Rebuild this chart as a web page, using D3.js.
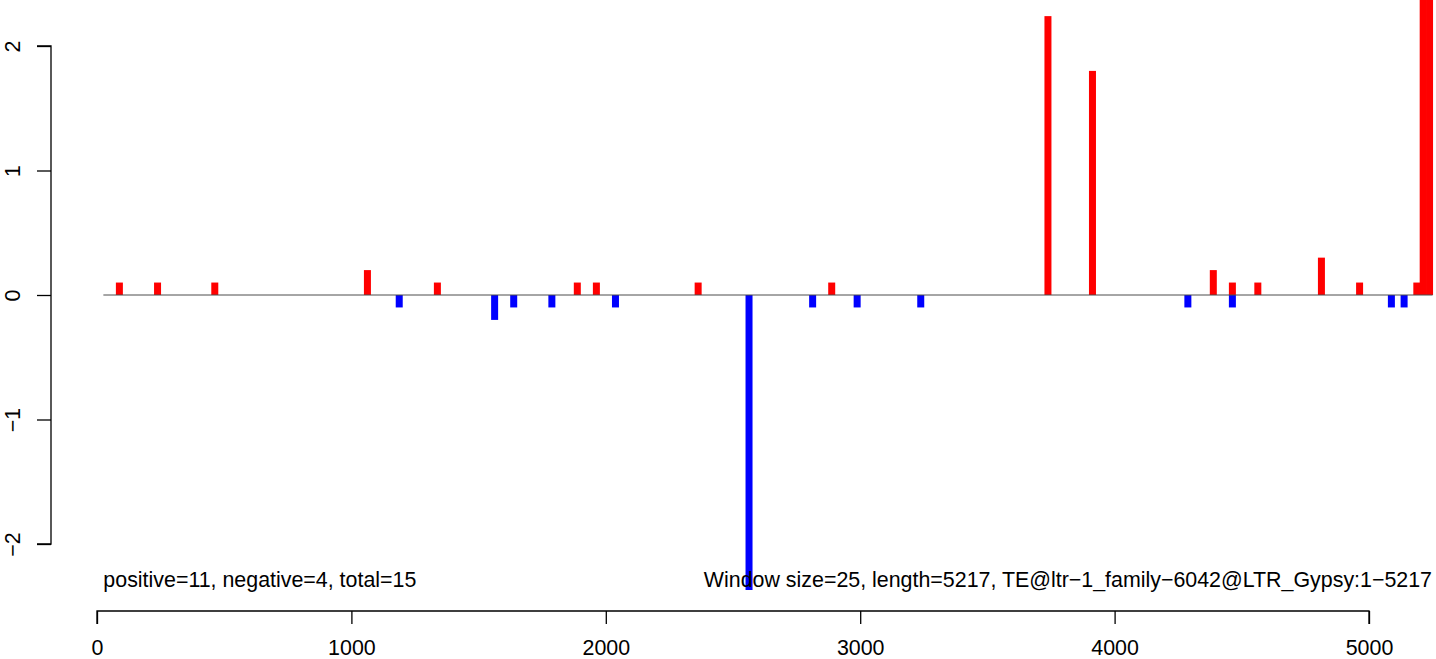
<!DOCTYPE html>
<html>
<head>
<meta charset="utf-8">
<script src="https://cdn.jsdelivr.net/npm/d3@7"></script>
<style>
  body { margin: 0; background: #fff; }
  text { font-family: "Liberation Sans", Arial, sans-serif; }
</style>
</head>
<body>
<svg id="chart" width="1436" height="659"></svg>
<script>
// window centres and scores
const posPositions = [88, 238, 463, 1063, 1338, 1888, 1963, 2363, 2888, 3738, 3913, 4388, 4463, 4563, 4813, 4963, 5188, 5213, 5238];
const posValues    = [0.1, 0.1, 0.1, 0.2, 0.1, 0.1, 0.1, 0.1, 0.1, 2.24, 1.8, 0.2, 0.1, 0.1, 0.3, 0.1, 0.1, 2.5, 2.5];
const negPositions = [1188, 1563, 1638, 1788, 2038, 2563, 2813, 2988, 3238, 4288, 4463, 5088, 5138];
const negValues    = [-0.1, -0.2, -0.1, -0.1, -0.1, -2.4, -0.1, -0.1, -0.1, -0.1, -0.1, -0.1, -0.1];

const xTicks = [0, 1000, 2000, 3000, 4000, 5000];
const yTicks = [-2, -1, 0, 1, 2];
const baseline = [25, 5250];

const leftNote = "positive=11, negative=4, total=15";
const rightNote = "Window size=25, length=5217, TE@ltr\u22121_family\u22126042@LTR_Gypsy:1\u22125217";

const svg = d3.select("#chart");
const width = +svg.attr("width");

const x = d3.scaleLinear().domain([0, 5000]).range([97, 1369]);
const y = d3.scaleLinear().domain([-2, 2]).range([544, 46]);

const barW = 7;
const fontSize = "21.4px";
const minus = d => String(d).replace("-", "\u2212");

svg.append("clipPath").attr("id", "plotClip")
  .append("rect")
  .attr("x", 0).attr("y", 0)
  .attr("width", width).attr("height", 590);

const plot = svg.append("g").attr("clip-path", "url(#plotClip)");

const bars = posPositions.map((p, i) => ({ pos: p, v: posValues[i], col: "#ff0000" }))
  .concat(negPositions.map((p, i) => ({ pos: p, v: negValues[i], col: "#0000ff" })));

plot.selectAll(".bar")
  .data(bars)
  .enter()
  .append("rect")
  .attr("class", "bar")
  .attr("x", d => x(d.pos) - barW / 2)
  .attr("y", d => Math.min(y(d.v), y(0)))
  .attr("width", barW)
  .attr("height", d => Math.abs(y(d.v) - y(0)))
  .attr("fill", d => d.col);

plot.append("line")
  .attr("x1", x(baseline[0]))
  .attr("x2", x(baseline[1]))
  .attr("y1", y(0))
  .attr("y2", y(0))
  .attr("stroke", "#4d4d4d")
  .attr("stroke-width", 1);

// y axis
const yAxis = svg.append("g")
  .attr("transform", "translate(51,0)")
  .call(d3.axisLeft(y).tickValues(yTicks).tickSize(14).tickPadding(0).tickFormat(minus));
yAxis.select(".domain").attr("stroke", "#000").attr("stroke-width", 1.3)
  .attr("d", `M-14,${y(2)}H0V${y(-2)}H-14`);
yAxis.selectAll(".tick line").attr("stroke", "#000").attr("stroke-width", 1.3);
yAxis.selectAll(".tick text")
  .attr("x", 0).attr("dy", null)
  .attr("transform", "translate(-31,0) rotate(-90)")
  .attr("text-anchor", "middle")
  .style("font-size", fontSize)
  .attr("fill", "#000");

// x axis
const xAxis = svg.append("g")
  .attr("transform", "translate(0,611)")
  .call(d3.axisBottom(x).tickValues(xTicks).tickSize(13).tickPadding(0).tickFormat(d3.format("d")));
xAxis.select(".domain").attr("stroke", "#000").attr("stroke-width", 1.3)
  .attr("d", `M${x(0)},13V0H${x(5000)}V13`);
xAxis.selectAll(".tick line").attr("stroke", "#000").attr("stroke-width", 1.3);
xAxis.selectAll(".tick text")
  .attr("y", 44).attr("dy", null)
  .style("font-size", fontSize)
  .attr("fill", "#000");

svg.append("text")
  .attr("x", x(baseline[0]))
  .attr("y", 587)
  .style("font-size", fontSize)
  .attr("fill", "#000")
  .text(leftNote);

svg.append("text")
  .attr("x", 1432)
  .attr("y", 587)
  .attr("text-anchor", "end")
  .style("font-size", fontSize)
  .attr("fill", "#000")
  .text(rightNote);
</script>
</body>
</html>
